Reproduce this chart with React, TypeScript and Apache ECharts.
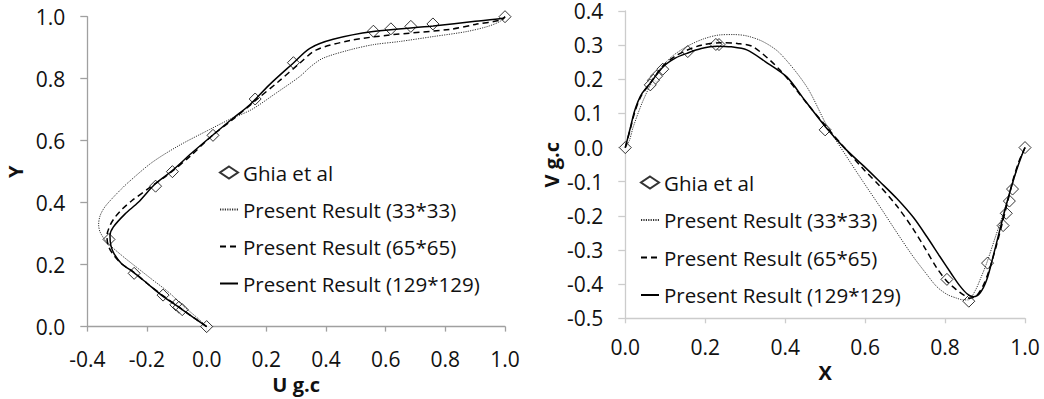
import React, { useEffect, useRef } from "react";
import * as echarts from "echarts";

// ---------- Left chart: U velocity along vertical centreline ----------
const ghiaY = [1.0, 0.9766, 0.9688, 0.9609, 0.9531, 0.8516, 0.7344, 0.6172, 0.5, 0.4531, 0.2813, 0.1719, 0.1016, 0.0703, 0.0625, 0.0547, 0.0];
const ghiaU = [1.0, 0.75837, 0.68439, 0.61756, 0.55892, 0.29093, 0.16256, 0.02135, -0.11477, -0.17119, -0.32726, -0.24299, -0.14612, -0.10338, -0.09266, -0.08186, 0.0];

const u33Y = [0, 0.027, 0.06, 0.112, 0.15, 0.187, 0.23, 0.273, 0.305, 0.33, 0.358, 0.385, 0.412, 0.44, 0.465, 0.529, 0.583, 0.636, 0.67, 0.7, 0.755, 0.807, 0.84, 0.866, 0.893, 0.91, 0.92, 0.936, 0.952, 0.968, 0.984, 1];
const u33U = [0, -0.03, -0.07, -0.129, -0.18, -0.229, -0.285, -0.335, -0.357, -0.362, -0.357, -0.342, -0.318, -0.29, -0.263, -0.184, -0.095, 0.01, 0.08, 0.15, 0.235, 0.312, 0.35, 0.39, 0.48, 0.56, 0.647, 0.76, 0.871, 0.94, 0.982, 1];

const u65Y = [0, 0.03, 0.064, 0.101, 0.14, 0.176, 0.203, 0.235, 0.262, 0.29, 0.305, 0.33, 0.353, 0.38, 0.406, 0.449, 0.49, 0.55, 0.615, 0.67, 0.732, 0.79, 0.85, 0.893, 0.923, 0.941, 0.959, 0.975, 0.99, 1];
const u65U = [0, -0.045, -0.094, -0.148, -0.2, -0.245, -0.285, -0.315, -0.33, -0.334, -0.332, -0.322, -0.307, -0.282, -0.251, -0.19, -0.13, -0.055, 0.017, 0.09, 0.167, 0.24, 0.312, 0.368, 0.48, 0.614, 0.815, 0.9, 0.99, 1];

const u129Y = [0, 0.03, 0.064, 0.101, 0.14, 0.176, 0.203, 0.235, 0.262, 0.294, 0.321, 0.363, 0.401, 0.46, 0.502, 0.56, 0.615, 0.67, 0.716, 0.78, 0.85, 0.898, 0.927, 0.952, 0.97, 0.985, 0.995, 1];
const u129U = [0, -0.045, -0.095, -0.151, -0.2, -0.246, -0.285, -0.31, -0.321, -0.324, -0.313, -0.274, -0.229, -0.173, -0.117, -0.05, 0.017, 0.085, 0.145, 0.21, 0.29, 0.346, 0.424, 0.558, 0.759, 0.9, 0.993, 1];

// ---------- Right chart: V velocity along horizontal centreline ----------
const ghiaX = [1.0, 0.9688, 0.9609, 0.9531, 0.9453, 0.9063, 0.8594, 0.8047, 0.5, 0.2344, 0.2266, 0.1563, 0.0938, 0.0781, 0.0703, 0.0625, 0.0];
const ghiaV = [0.0, -0.12146, -0.15663, -0.19254, -0.22847, -0.33827, -0.44993, -0.38598, 0.05188, 0.30174, 0.30203, 0.28124, 0.22965, 0.2092, 0.19713, 0.1836, 0.0];

const v33X = [0, 0.01, 0.02, 0.045, 0.079, 0.115, 0.154, 0.195, 0.237, 0.27, 0.304, 0.345, 0.387, 0.454, 0.504, 0.554, 0.595, 0.637, 0.68, 0.72, 0.75, 0.779, 0.805, 0.829, 0.845, 0.858, 0.875, 0.89, 0.904, 0.925, 0.946, 0.965, 0.979, 0.99, 1];
const v33V = [0, 0.02, 0.061, 0.139, 0.218, 0.265, 0.296, 0.318, 0.33, 0.331, 0.327, 0.31, 0.276, 0.178, 0.065, -0.027, -0.1, -0.173, -0.25, -0.319, -0.365, -0.407, -0.43, -0.441, -0.446, -0.446, -0.42, -0.38, -0.339, -0.265, -0.192, -0.12, -0.066, -0.025, 0];

const v65X = [0, 0.012, 0.024, 0.04, 0.062, 0.095, 0.125, 0.154, 0.19, 0.237, 0.28, 0.32, 0.387, 0.454, 0.504, 0.55, 0.595, 0.637, 0.68, 0.72, 0.75, 0.779, 0.805, 0.829, 0.848, 0.862, 0.878, 0.895, 0.91, 0.93, 0.95, 0.97, 0.985, 1];
const v65V = [0, 0.052, 0.105, 0.152, 0.188, 0.24, 0.268, 0.285, 0.3, 0.307, 0.305, 0.295, 0.227, 0.13, 0.06, -0.003, -0.062, -0.113, -0.172, -0.238, -0.295, -0.352, -0.392, -0.417, -0.433, -0.441, -0.435, -0.405, -0.36, -0.28, -0.19, -0.095, -0.04, 0];

const v129X = [0, 0.012, 0.024, 0.04, 0.062, 0.095, 0.125, 0.154, 0.19, 0.229, 0.265, 0.304, 0.35, 0.404, 0.45, 0.5, 0.55, 0.6, 0.637, 0.68, 0.721, 0.755, 0.787, 0.815, 0.837, 0.855, 0.871, 0.888, 0.904, 0.92, 0.937, 0.955, 0.971, 0.985, 1];
const v129V = [0, 0.055, 0.11, 0.155, 0.188, 0.237, 0.262, 0.276, 0.29, 0.297, 0.295, 0.286, 0.252, 0.207, 0.137, 0.062, -0.003, -0.058, -0.1, -0.15, -0.205, -0.262, -0.319, -0.368, -0.405, -0.428, -0.437, -0.425, -0.388, -0.32, -0.241, -0.16, -0.095, -0.045, 0];

const seriesNames = ["Ghia et al", "Present Result (33*33)", "Present Result (65*65)", "Present Result (129*129)"];

const FONT = "'Open Sans', sans-serif";
const zip = (xs: number[], ys: number[]) => xs.map((x, i) => [x, ys[i]]);

function valueAxis(gridIndex: number, min: number, max: number, interval: number, name: string, isY: boolean, lineColor: string, nameGap: number, labelMargin: number) {
  return {
    type: "value",
    gridIndex,
    min,
    max,
    interval,
    name,
    nameLocation: "middle",
    nameGap,
    nameTextStyle: { fontFamily: FONT, fontSize: 20, fontWeight: "bold", color: "#111" },
    axisLine: { show: true, onZero: false, lineStyle: { color: lineColor, width: 1.3 } },
    axisTick: { show: true, length: isY ? 7 : 5, lineStyle: { color: lineColor, width: 1.3 } },
    axisLabel: { fontFamily: FONT, fontSize: 21, lineHeight: 18, color: "#111", margin: labelMargin, formatter: (v: number) => v.toFixed(1) },
    splitLine: { show: false },
  };
}

function seriesFor(idx: number, ghia: number[][], s33: number[][], s65: number[][], s129: number[][]) {
  return [
    {
      name: seriesNames[0], type: "scatter", xAxisIndex: idx, yAxisIndex: idx, data: ghia,
      symbol: "diamond", symbolSize: 12,
      itemStyle: { color: "#fff", borderColor: "#000", borderWidth: 1 },
    },
    {
      name: seriesNames[1], type: "line", xAxisIndex: idx, yAxisIndex: idx, data: s33,
      symbol: "none", smooth: 0.3, lineStyle: { color: "#333", width: 1, type: [1.2, 1.2] },
      itemStyle: { color: "#333" },
    },
    {
      name: seriesNames[2], type: "line", xAxisIndex: idx, yAxisIndex: idx, data: s65,
      symbol: "none", smooth: 0.3, lineStyle: { color: "#000", width: 1.5, type: [6, 4] },
      itemStyle: { color: "#000" },
    },
    {
      name: seriesNames[3], type: "line", xAxisIndex: idx, yAxisIndex: idx, data: s129,
      symbol: "none", smooth: 0.3, lineStyle: { color: "#000", width: 1.5, type: "solid" },
      itemStyle: { color: "#000" },
    },
  ];
}

export default function App() {
  const ref = useRef<HTMLDivElement>(null);
  useEffect(() => {
    document.body.style.margin = "0";
    const chart = echarts.init(ref.current!, null, { renderer: "svg" });
    const legendData = seriesNames.map((n, i) => (i === 0 ? { name: n } : { name: n, itemStyle: { opacity: 0 } }));
    const legendCommon = {
      orient: "vertical",
      padding: 0,
      itemWidth: 18,
      itemHeight: 12,
      itemGap: 16,
      itemTextGap: 3,
      data: legendData,
      textStyle: { fontFamily: FONT, fontSize: 20.5, color: "#111" },
      selectedMode: false,
    };
    const option: any = {
      animation: false,
      backgroundColor: "#fff",
      grid: [
        { left: 87.3, top: 16.7, width: 417.7, height: 311.6 },
        { left: 625.3, top: 11, width: 399.7, height: 307.3 },
      ],
      xAxis: [
        valueAxis(0, -0.4, 1.0, 0.2, "U g.c", false, "#a0a0a0", 44, 23),
        valueAxis(1, 0.0, 1.0, 0.2, "X", false, "#cccccc", 43, 20),
      ],
      yAxis: [
        valueAxis(0, 0.0, 1.0, 0.2, "Y", true, "#a0a0a0", 62, 22),
        valueAxis(1, -0.5, 0.4, 0.1, "V g.c", true, "#cccccc", 64, 22),
      ],
      legend: [
        { ...legendCommon, left: 219, top: 162 },
        { ...legendCommon, left: 640, top: 172, itemGap: 16.5 },
      ],
      series: [
        ...seriesFor(0, zip(ghiaU, ghiaY), zip(u33U, u33Y), zip(u65U, u65Y), zip(u129U, u129Y)),
        ...seriesFor(1, zip(ghiaX, ghiaV), zip(v33X, v33V), zip(v65X, v65V), zip(v129X, v129V)),
      ],
    };
    chart.setOption(option);
    return () => chart.dispose();
  }, []);
  return <div ref={ref} style={{ width: 1044, height: 399 }} />;
}
